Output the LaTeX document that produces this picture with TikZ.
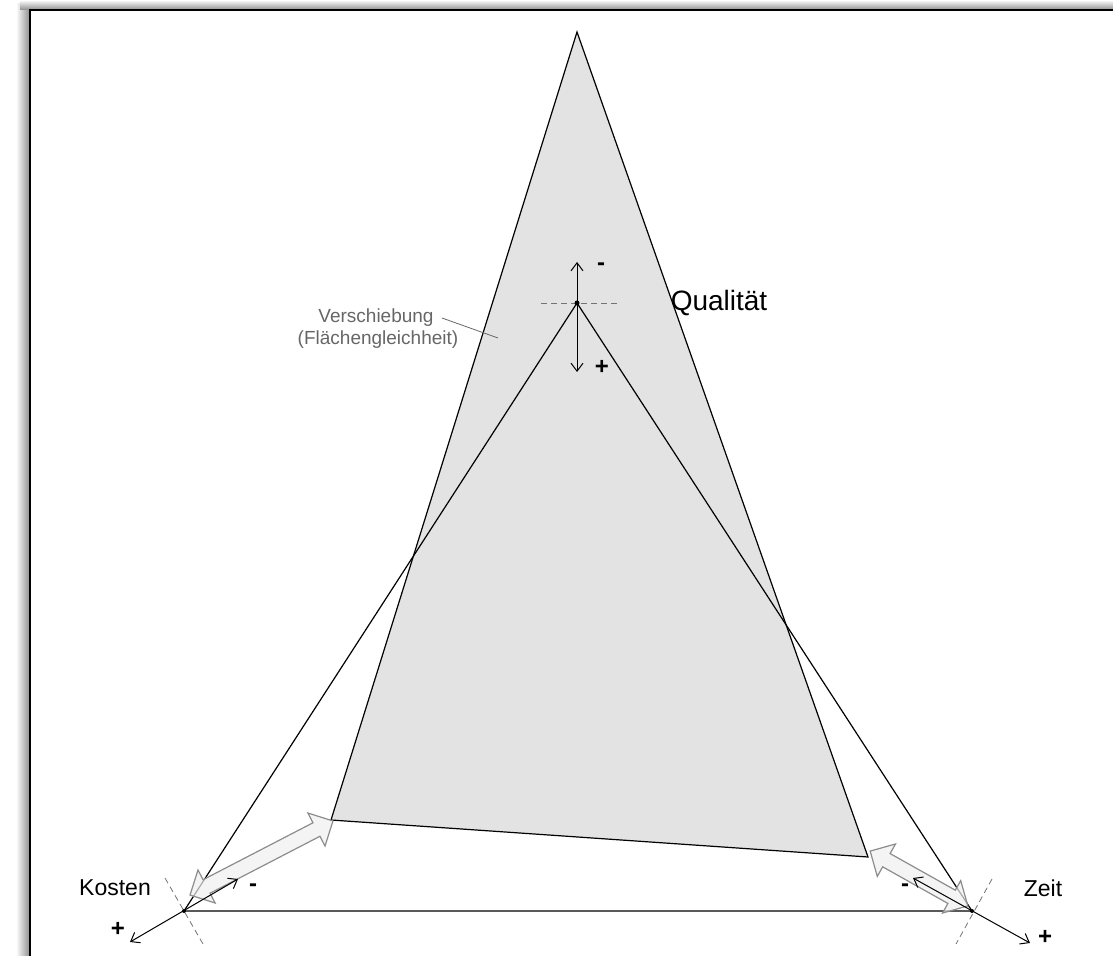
\documentclass[tikz,border=0pt]{standalone}
\usepackage{fontspec}
\setmainfont{Liberation Sans}
\usetikzlibrary{shapes.arrows,arrows.meta}

\tikzset{
  edge/.style={line width=0.6pt},
  tick/.style={densely dashed, line width=0.4pt, black!55},
  axis/.style={<->, >={Straight Barb[length=4pt,width=6pt]}, line width=0.5pt},
  shiftarrow/.style={double arrow, draw=black!45, fill=black!6, fill opacity=0.7,
    line width=0.6pt, inner sep=3.5pt, double arrow head extend=5.5pt},
  sign/.style={font=\bfseries\fontsize{12}{12}\selectfont, inner sep=0pt},
  corner/.style={font=\fontsize{11.5}{14}\selectfont},
  note/.style={font=\fontsize{9.5}{11}\selectfont, text=black!60, inner sep=0pt},
}

\begin{document}
\begin{tikzpicture}[x=0.5pt, y=-0.5pt]
\useasboundingbox (0,0) rectangle (1113,956);
% frame with shadow
\shade[left color=white, right color=black!45] (16,4) rectangle (30,956);
\shade[top color=white, bottom color=black!45] (20,0) rectangle (1113,10);
\draw[line width=1.2pt] (30,956) -- (30,10) -- (1113,10);

% shifted triangle
\coordinate (A) at (577,32);
\coordinate (B) at (331,820);
\coordinate (C) at (868,857);
\filldraw[fill=black!11, edge] (A) -- (B) -- (C) -- cycle;

% original triangle
\coordinate (Q) at (577,303);
\coordinate (K) at (184,911);
\coordinate (Z) at (972,911);
\draw[edge] (Q) -- (K) -- (Z) -- cycle;

% shift arrows
\node[shiftarrow, minimum height=80.5pt, rotate=27.4] (shiftK) at (261.5,858) {};
\node[shiftarrow, minimum height=56pt, rotate=150.7] (shiftZ) at (919,878.5) {};

% ticks
\draw[tick] (541,303) -- (617,303);
\draw[tick] (165,878) -- (203,944);
\draw[tick] (992,879) -- (956,944);

% axes
\coordinate (Qm) at (577,262);
\coordinate (Qp) at (577,372);
\coordinate (Km) at (238,879);
\coordinate (Kp) at (130,942);
\coordinate (Zm) at (913,878);
\coordinate (Zp) at (1030,943);
\draw[axis] (Qm) -- (Qp);
\draw[axis] (Km) -- (Kp);
\draw[axis] (Zm) -- (Zp);
\fill (Q) circle (2.5);
\fill (K) circle (2);
\fill (Z) circle (2);

\node[sign] (qm) at (601,267) {-};
\node[sign] (qp) at (602,367) {+};
\node[sign] (km) at (253,888) {-};
\node[sign] (kp) at (118,929) {+};
\node[sign] (zm) at (905,888) {-};
\node[sign] (zp) at (1045,937) {+};

% labels
\node[font=\fontsize{14}{16}\selectfont] (qual) at (719,303) {Qualität};
\node[corner] (kosten) at (115,888) {Kosten};
\node[corner] (zeit) at (1043,888) {Zeit};
\node[note] (versch) at (376,318) {Verschiebung};
\node[note] (flaeche) at (378,340) {(Flächengleichheit)};
\coordinate (vm) at (498,338);
\draw[black!60, line width=0.4pt] ([xshift=4pt]versch.east) -- (vm);
\end{tikzpicture}
\end{document}
